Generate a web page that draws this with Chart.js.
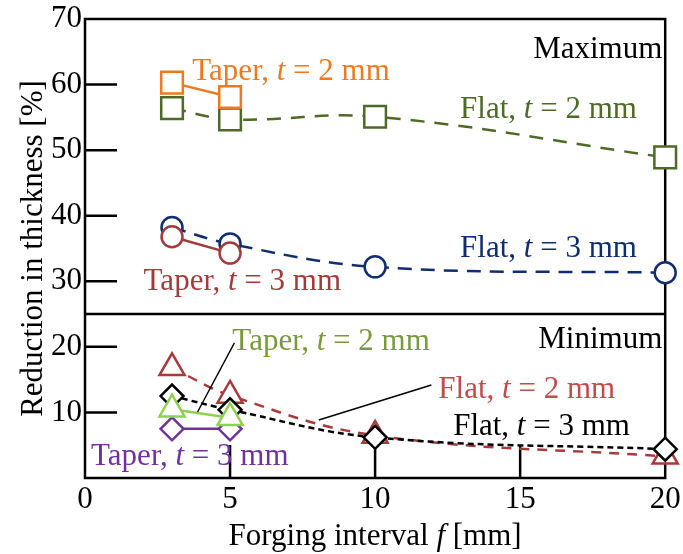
<!DOCTYPE html>
<html><head><meta charset="utf-8">
<script src="https://cdn.jsdelivr.net/npm/chart.js@4.4.0/dist/chart.umd.min.js"></script>
<style>html,body{margin:0;padding:0;background:#fff}</style>
</head><body>
<canvas id="c" width="683" height="554"></canvas>
<script>
// ---- data ----
const xTaper = [3, 5];
const xFlat = [3, 5, 10, 20];
const maxTaper2 = [60.3, 58.1];
const maxFlat2 = [56.4, 54.7, 55.1, 48.9];
const maxFlat3 = [38.2, 35.7, 32.2, 31.3];
const maxTaper3 = [36.8, 34.3];
const minFlat2 = [16.8, 12.6, 6.5, 3.3];
const minFlat3 = [12.5, 10.4, 6.2, 4.4];
const minTaper2 = [10.5, 9.2];
const minTaper3 = [7.5, 7.5];
const xTickStep = 5;
const yTickStep = 10;
const splitValue = 25;

const FONT = "'Liberation Serif', 'Times New Roman', Times, serif";
const FS = 31;

function pts(xs, ys) { return xs.map((x, i) => ({ x: x, y: ys[i] })); }

function ds(label, xs, ys, color, style, radius, dash, tension, order) {
  return {
    label: label, data: pts(xs, ys), borderColor: color, borderWidth: 2.5,
    borderDash: dash, tension: tension, pointStyle: style, pointRadius: radius,
    pointBorderColor: color, pointBackgroundColor: '#ffffff', pointBorderWidth: 2.5,
    fill: false, clip: false, order: order
  };
}

const datasets = [
  ds('Taper, t = 2 mm (max)', xTaper, maxTaper2, '#ec7a22', 'rect', 15.3, [], 0, 1),
  ds('Flat, t = 2 mm (max)', xFlat, maxFlat2, '#4e6a27', 'rect', 15.3, [14, 10], 0.4, 2),
  ds('Taper, t = 3 mm (max)', xTaper, maxTaper3, '#a23b3b', 'circle', 10.5, [], 0, 3),
  ds('Flat, t = 3 mm (max)', xFlat, maxFlat3, '#102e6e', 'circle', 10.5, [14, 9], 0.4, 4),
  ds('Taper, t = 2 mm (min)', xTaper, minTaper2, '#8fd14f', 'triangle', 14.5, [], 0, 5),
  ds('Flat, t = 3 mm (min)', xFlat, minFlat3, '#000000', 'rectRot', 11.5, [6, 4], 0.4, 6),
  ds('Flat, t = 2 mm (min)', xFlat, minFlat2, '#a83a3a', 'triangle', 14.5, [10, 8], 0.4, 7),
  ds('Taper, t = 3 mm (min)', xTaper, minTaper3, '#7030a0', 'rectRot', 11.5, [], 0, 8)
];

// text annotations in data coordinates
const notes = [
  { parts: ['Taper, ', ['t'], ' = 2 mm'], x: 3.70, y: 60.7, color: '#ec7a22', align: 'left' },
  { parts: ['Maximum'], x: 19.9, y: 64.05, color: '#000000', align: 'right' },
  { parts: ['Flat, ', ['t'], ' = 2 mm'], x: 12.93, y: 54.9, color: '#4e6a27', align: 'left' },
  { parts: ['Flat, ', ['t'], ' = 3 mm'], x: 12.93, y: 33.7, color: '#102e6e', align: 'left' },
  { parts: ['Taper, ', ['t'], ' = 3 mm'], x: 2.02, y: 28.67, color: '#a23b3b', align: 'left' },
  { parts: ['Minimum'], x: 19.9, y: 19.83, color: '#000000', align: 'right' },
  { parts: ['Taper, ', ['t'], ' = 2 mm'], x: 5.08, y: 19.52, color: '#7a9a3a', align: 'left' },
  { parts: ['Flat, ', ['t'], ' = 2 mm'], x: 12.18, y: 12.2, color: '#c34b4b', align: 'left' },
  { parts: ['Flat, ', ['t'], ' = 3 mm'], x: 12.69, y: 6.56, color: '#000000', align: 'left' },
  { parts: ['Taper, ', ['t'], ' = 3 mm'], x: 0.21, y: 1.98, color: '#7030a0', align: 'left' }
];
const leaders = [
  { x1: 5.15, y1: 20.6, x2: 3.88, y2: 10.07 },
  { x1: 8.06, y1: 8.85, x2: 11.94, y2: 14.18 }
];

function rich(ctx, parts, x, y, align, color) {
  ctx.save();
  ctx.fillStyle = color; ctx.textBaseline = 'alphabetic'; ctx.textAlign = 'left';
  let w = 0;
  const segs = parts.map(p => {
    const it = typeof p !== 'string';
    const t = it ? p[0] : p;
    const f = (it ? 'italic ' : '') + FS + 'px ' + FONT;
    ctx.font = f;
    const m = ctx.measureText(t).width;
    w += m;
    return { t, f, m };
  });
  let cx = align === 'right' ? x - w : align === 'center' ? x - w / 2 : x;
  segs.forEach(s => { ctx.font = s.f; ctx.fillText(s.t, cx, y); cx += s.m; });
  ctx.restore();
}

const framePlugin = {
  id: 'frame',
  beforeDatasetsDraw(chart) {
    const { ctx, chartArea: a, scales: { x, y } } = chart;
    ctx.save();
    ctx.strokeStyle = '#000'; ctx.lineWidth = 2.5;
    ctx.strokeRect(a.left, a.top, a.right - a.left, a.bottom - a.top);
    const ys = y.getPixelForValue(splitValue);
    ctx.beginPath(); ctx.moveTo(a.left, ys); ctx.lineTo(a.right, ys); ctx.stroke();
    ctx.beginPath();
    y.ticks.forEach(t => {
      if (t.value <= y.min || t.value >= y.max) return;
      const py = y.getPixelForValue(t.value);
      ctx.moveTo(a.left, py); ctx.lineTo(a.left + 32, py);
    });
    x.ticks.forEach(t => {
      if (t.value <= x.min || t.value >= x.max) return;
      const px = x.getPixelForValue(t.value);
      ctx.moveTo(px, a.bottom); ctx.lineTo(px, a.bottom - 33);
    });
    ctx.stroke();
    ctx.restore();
    // x tick labels
    x.ticks.forEach(t => rich(ctx, [String(t.value)], x.getPixelForValue(t.value), a.bottom + 30, 'center', '#000'));
  },
  afterDatasetsDraw(chart) {
    const { ctx, chartArea: a, scales: { x, y } } = chart;
    ctx.save();
    ctx.strokeStyle = '#000'; ctx.lineWidth = 1.4;
    leaders.forEach(l => {
      ctx.beginPath();
      ctx.moveTo(x.getPixelForValue(l.x1), y.getPixelForValue(l.y1));
      ctx.lineTo(x.getPixelForValue(l.x2), y.getPixelForValue(l.y2));
      ctx.stroke();
    });
    ctx.restore();
    notes.forEach(n => rich(ctx, n.parts, x.getPixelForValue(n.x), y.getPixelForValue(n.y), n.align, n.color));
    rich(ctx, ['Forging interval ', ['f'], ' [mm]'], (a.left + a.right) / 2, 545, 'center', '#000');
    ctx.save();
    ctx.translate(42, (a.top + a.bottom) / 2);
    ctx.rotate(-Math.PI / 2);
    rich(ctx, ['Reduction in thickness [%]'], 0, 0, 'center', '#000');
    ctx.restore();
  }
};

new Chart(document.getElementById('c'), {
  type: 'line',
  data: { datasets: datasets },
  options: {
    responsive: false, animation: false, devicePixelRatio: 1,
    layout: { padding: { top: 19, right: 15, left: 0, bottom: 0 } },
    plugins: { legend: { display: false }, tooltip: { enabled: false } },
    scales: {
      x: {
        type: 'linear', min: 0, max: 20, position: 'bottom',
        ticks: { stepSize: xTickStep, display: false },
        grid: { display: false, drawTicks: false }, border: { display: false },
        afterFit(s) { s.height = 76; }
      },
      y: {
        type: 'linear', min: 0, max: 70,
        ticks: { stepSize: yTickStep, color: '#000', font: { family: FONT, size: FS }, padding: 3,
          callback: v => (v === 0 ? '' : v) },
        grid: { display: false, drawTicks: false }, border: { display: false },
        afterFit(s) { s.width = 85; s.paddingTop = 0; s.paddingBottom = 0; }
      }
    }
  },
  plugins: [framePlugin]
});
</script>
</body></html>
